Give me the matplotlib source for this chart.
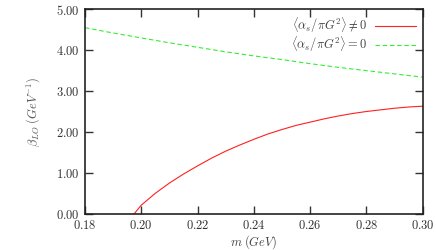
import matplotlib
matplotlib.use("Agg")
import matplotlib.pyplot as plt
import numpy as np

plt.rcParams['mathtext.fontset'] = 'cm'
plt.rcParams['font.family'] = 'serif'
plt.rcParams['font.serif'] = ['cmr10', 'DejaVu Serif']

# mass values (GeV) and beta_LO
m_red = [0.1975, 0.200, 0.205, 0.210, 0.215, 0.220, 0.225, 0.230, 0.235, 0.240,
         0.245, 0.250, 0.255, 0.260, 0.265, 0.270, 0.275, 0.280, 0.285, 0.290, 0.295, 0.300]
beta_red = [0.00, 0.21, 0.50, 0.75, 0.97, 1.17, 1.36, 1.53, 1.68, 1.82,
            1.95, 2.06, 2.16, 2.24, 2.32, 2.39, 2.45, 2.50, 2.54, 2.58, 2.61, 2.63]

m_green = [0.18, 0.19, 0.20, 0.21, 0.22, 0.23, 0.24, 0.25, 0.26, 0.27, 0.28, 0.29, 0.30]
beta_green = [4.55, 4.42, 4.30, 4.18, 4.07, 3.96, 3.86, 3.77, 3.67, 3.58, 3.50, 3.42, 3.34]

xticks = [0.18, 0.20, 0.22, 0.24, 0.26, 0.28, 0.30]
yticks = [0.0, 1.0, 2.0, 3.0, 4.0, 5.0]

fig = plt.figure(figsize=(4.36, 2.5), dpi=100)
ax = fig.add_axes([0.195, 0.1452, 0.7745, 0.8176])

ax.plot(m_red, beta_red, color='#ff2020', lw=0.8,
        label=r'$\langle \alpha_s/\pi G^2\rangle \neq 0$')
ax.plot(m_green, beta_green, color='#33ee33', lw=0.8, dashes=(4, 2.5),
        label=r'$\langle \alpha_s/\pi G^2\rangle = 0$')

ax.set_xlim(0.18, 0.30)
ax.set_ylim(0, 5)
ax.set_xticks(xticks)
ax.set_yticks(yticks)
ax.set_xticklabels([r'$%.2f$' % t for t in xticks])
ax.set_yticklabels([r'$%.2f$' % t for t in yticks])
ax.tick_params(direction='in', length=6, width=1, top=True, right=True,
               labelsize=9, pad=4, colors='#333333')
for s in ax.spines.values():
    s.set_linewidth(1.2)
    s.set_color('#222222')

ax.set_xlabel(r'$m\;(GeV)$', fontsize=9, color='#444444', labelpad=1)
ax.set_ylabel(r'$\beta_{LO}\;(GeV^{-1})$', fontsize=9, color='#555555', labelpad=10)

leg = ax.legend(loc='upper right', frameon=False, markerfirst=False,
                fontsize=9, handlelength=3.3, handletextpad=0.6,
                labelspacing=-0.05, borderaxespad=0.1)
for t in leg.get_texts():
    t.set_color('#444444')

fig.savefig('out.png', dpi=100)
